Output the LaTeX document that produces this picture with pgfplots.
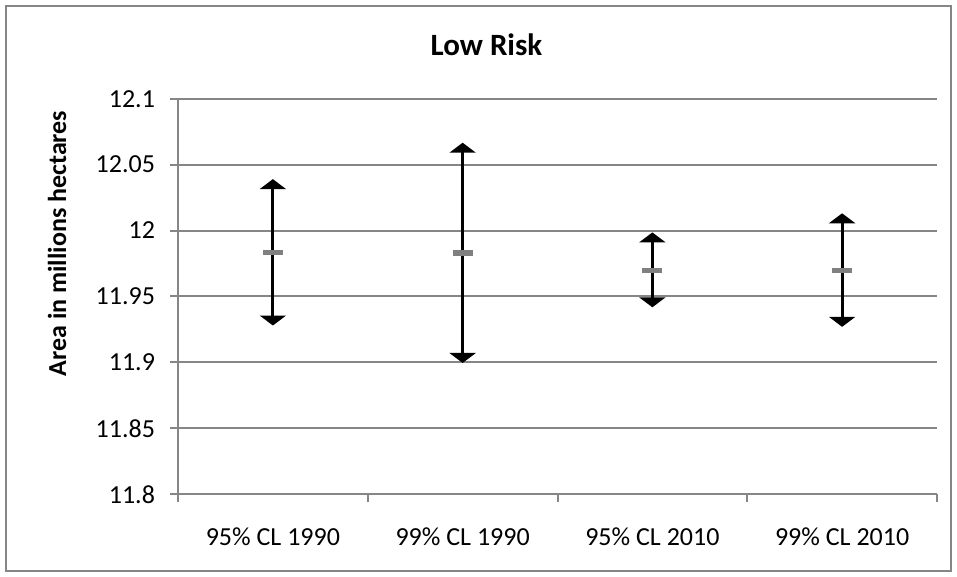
\documentclass[border=0pt]{standalone}
\usepackage{fontspec}
\setmainfont{Carlito}
\usepackage{pgfplots}
\pgfplotsset{compat=1.18}
\usetikzlibrary{arrows.meta}
\definecolor{axgray}{RGB}{134,134,134}
\definecolor{meangray}{RGB}{128,128,128}
\begin{document}
\begin{tikzpicture}[x=1pt,y=1pt]
\path[use as bounding box] (0,0) rectangle (478.5,288.5);
\draw[axgray, line width=1pt] (3,3) rectangle (475.5,285.5);
\node[font=\fontsize{15.5}{18}\selectfont\bfseries, anchor=base, inner sep=0pt] at (243.25,260.5) {Low Risk};
\node[font=\fontsize{13}{15}\selectfont\bfseries, rotate=90, inner sep=0pt] at (28.5,166.75) {Area in millions hectares};
\begin{axis}[at={(89pt,41.35pt)}, anchor=south west, scale only axis,
  width=379.5pt, height=197.8pt,
  xmin=-0.5, xmax=3.5, ymin=11.8, ymax=12.1,
  axis lines*=left,
  axis line style={axgray, line width=1pt},
  ytick={11.8,11.85,11.9,11.95,12,12.05,12.1},
  yticklabels={11.8,11.85,11.9,11.95,12,12.05,12.1},
  ymajorgrids, grid style={axgray, line width=1pt},
  xtick={-0.5,0.5,1.5,2.5,3.5},
  x tick label as interval,
  xticklabels={95\% CL 1990,99\% CL 1990,95\% CL 2010,99\% CL 2010},
  tick align=outside, major tick length=4pt,
  tick style={axgray, line width=1pt},
  ticklabel style={font=\fontsize{13}{15}\selectfont},
  yticklabel style={xshift=-4pt},
  xticklabel style={yshift=-9pt},
  clip=false]
\addplot[black, line width=1.5pt, arrows={Triangle[width=13pt,length=5pt]-Triangle[width=13pt,length=5pt]}] coordinates {(0,11.928) (0,12.039)};
\addplot[black, line width=1.5pt, arrows={Triangle[width=13pt,length=5pt]-Triangle[width=13pt,length=5pt]}] coordinates {(1,11.8996) (1,12.0666)};
\addplot[black, line width=1.5pt, arrows={Triangle[width=13pt,length=5pt]-Triangle[width=13pt,length=5pt]}] coordinates {(2,11.9418) (2,11.9986)};
\addplot[black, line width=1.5pt, arrows={Triangle[width=13pt,length=5pt]-Triangle[width=13pt,length=5pt]}] coordinates {(3,11.927) (3,12.0131)};
\addplot[only marks, mark=-, mark size=5pt, mark options={meangray, line width=2.6pt}] coordinates {(0,11.9835) (1,11.983) (2,11.9696) (3,11.9696)};
\end{axis}
\end{tikzpicture}
\end{document}
